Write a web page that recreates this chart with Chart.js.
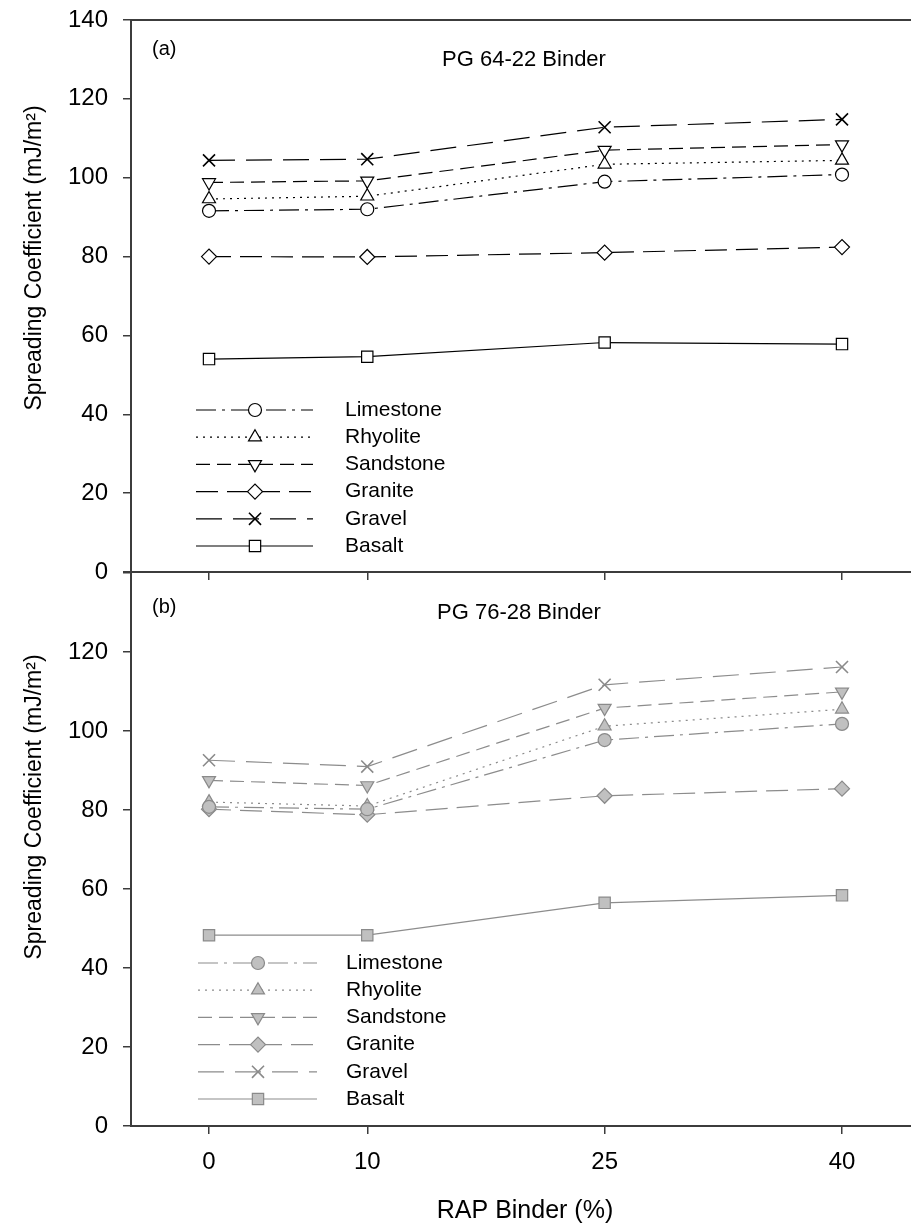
<!DOCTYPE html>
<html>
<head>
<meta charset="utf-8">
<title>Spreading Coefficient vs RAP Binder</title>
<script src="https://cdn.jsdelivr.net/npm/chart.js@4.4.1/dist/chart.umd.min.js"></script>
<style>
  body { margin: 0; background: #fff; }
  #wrap { position: relative; width: 911px; height: 1226px; overflow: hidden; }
  canvas { position: absolute; left: 0; }
</style>
</head>
<body>
<div id="wrap">
  <canvas id="chartA" width="911" height="612" style="top:-10px"></canvas>
  <canvas id="chartB" width="911" height="683" style="top:543px"></canvas>
</div>
<script>
const rapBinder = [0, 10, 25, 40];
const seriesNames = ['Limestone', 'Rhyolite', 'Sandstone', 'Granite', 'Gravel', 'Basalt'];

// (a) PG 64-22 binder
const limestoneA = [91.6, 92.0, 99.0, 100.8];
const rhyoliteA = [94.6, 95.3, 103.4, 104.4];
const sandstoneA = [98.8, 99.2, 107.0, 108.4];
const graniteA = [80.0, 79.9, 81.0, 82.4];
const gravelA = [104.4, 104.7, 112.8, 114.8];
const basaltA = [54.0, 54.6, 58.2, 57.8];

// (b) PG 76-28 binder
const limestoneB = [80.8, 80.2, 97.7, 101.8];
const rhyoliteB = [82.0, 81.0, 101.2, 105.5];
const sandstoneB = [87.5, 86.2, 105.8, 109.9];
const graniteB = [80.2, 78.8, 83.6, 85.4];
const gravelB = [92.6, 91.0, 111.7, 116.2];
const basaltB = [48.3, 48.3, 56.5, 58.4];

const yMin = 0;
const yMax = 140;
const yStep = 20;

const FONT = "'Liberation Sans', Arial, sans-serif";
const AXIS = '#3c3c3c';

// line / marker look per aggregate
const styles = {
  Limestone: { dash: [20, 6, 3, 6], point: 'circle', radius: 6.5, rotation: 0 },
  Rhyolite: { dash: [2, 5], point: 'triangle', radius: 7.5, rotation: 0 },
  Sandstone: { dash: [14, 7], point: 'triangle', radius: 7.5, rotation: 180 },
  Granite: { dash: [22, 9], point: 'rectRot', radius: 7.5, rotation: 0 },
  Gravel: { dash: [26, 11], point: 'crossRot', radius: 8.5, rotation: 0 },
  Basalt: { dash: [], point: 'rect', radius: 8, rotation: 0 }
};

function makeDatasets(seriesValues, lineColor, fill, markerEdge) {
  return seriesNames.map(function(name, i) {
    const s = styles[name];
    return {
      label: name,
      data: rapBinder.map(function(x, j) { return { x: x, y: seriesValues[i][j] }; }),
      borderColor: lineColor,
      borderWidth: 1.2,
      borderDash: s.dash,
      pointStyle: s.point,
      pointRadius: s.radius,
      pointRotation: s.rotation,
      pointBackgroundColor: fill,
      pointBorderColor: markerEdge,
      pointBorderWidth: s.point === 'crossRot' ? 1.6 : 1.2,
      fill: false,
      tension: 0
    };
  });
}

// hand-drawn legend: dashed sample with the marker in the middle
const sampleLegend = {
  id: 'sampleLegend',
  afterDatasetsDraw(chart, args, opts) {
    const ctx = chart.ctx;
    chart.data.datasets.forEach(function(ds, i) {
      const y = opts.top + i * opts.rowGap;
      ctx.save();
      ctx.strokeStyle = ds.borderColor;
      ctx.lineWidth = ds.borderWidth;
      ctx.setLineDash(ds.borderDash);
      ctx.beginPath();
      ctx.moveTo(opts.lineStart, y);
      ctx.lineTo(opts.lineEnd, y);
      ctx.stroke();
      ctx.setLineDash([]);
      ctx.fillStyle = ds.pointBackgroundColor;
      ctx.strokeStyle = ds.pointBorderColor;
      ctx.lineWidth = ds.pointBorderWidth;
      Chart.helpers.drawPoint(ctx, {
        pointStyle: ds.pointStyle,
        rotation: ds.pointRotation,
        radius: ds.pointRadius,
        borderWidth: ds.pointBorderWidth
      }, opts.markerX, y);
      ctx.fillStyle = '#000';
      ctx.font = '21px ' + FONT;
      ctx.textAlign = 'left';
      ctx.textBaseline = 'middle';
      ctx.fillText(ds.label, opts.textX, y);
      ctx.restore();
    });
  }
};

// panel tag, binder name and the axis titles
const panelText = {
  id: 'panelText',
  afterDraw(chart, args, opts) {
    const ctx = chart.ctx;
    ctx.save();
    ctx.fillStyle = '#000';
    ctx.textBaseline = 'alphabetic';
    ctx.font = '20px ' + FONT;
    ctx.textAlign = 'left';
    ctx.fillText(opts.tag, opts.tagX, opts.tagY);
    ctx.font = '22px ' + FONT;
    ctx.textAlign = 'center';
    ctx.fillText(opts.binder, opts.binderX, opts.binderY);
    if (opts.xTitle) {
      ctx.font = '25px ' + FONT;
      ctx.textBaseline = 'middle';
      ctx.fillText(opts.xTitle, opts.xTitleX, opts.xTitleY);
    }
    ctx.font = '23px ' + FONT;
    ctx.translate(opts.yTitleX, opts.yTitleY);
    ctx.rotate(-Math.PI / 2);
    ctx.textBaseline = 'middle';
    ctx.fillText('Spreading Coefficient (mJ/m\u00B2)', 0, 0);
    ctx.restore();
  }
};

function makeConfig(datasets, isBottom, legendOpts, textOpts) {
  return {
    type: 'line',
    data: { datasets: datasets },
    plugins: [sampleLegend, panelText],
    options: {
      responsive: false,
      animation: false,
      layout: { padding: 0, autoPadding: false },
      plugins: {
        legend: { display: false },
        tooltip: { enabled: false },
        sampleLegend: legendOpts,
        panelText: textOpts
      },
      scales: {
        x: {
          type: 'linear',
          min: -4.93,
          max: 44.36,
          afterBuildTicks: function(scale) {
            scale.ticks = rapBinder.map(function(v) { return { value: v }; });
          },
          afterFit: function(scale) { scale.height = isBottom ? 100 : 30; },
          grid: { drawOnChartArea: false, tickLength: 8, color: AXIS, lineWidth: 1.5 },
          border: { color: AXIS, width: 2 },
          ticks: {
            display: isBottom,
            padding: 14,
            color: '#000',
            font: { family: FONT, size: 24 }
          }
        },
        xTop: {
          type: 'linear',
          position: 'top',
          min: -4.93,
          max: 44.36,
          afterFit: function(scale) { scale.height = 30; },
          grid: { display: false, drawTicks: false },
          border: { display: !isBottom, color: AXIS, width: 2 },
          ticks: { display: false }
        },
        y: {
          min: yMin,
          max: yMax,
          afterFit: function(scale) { scale.width = 131; },
          grid: { drawOnChartArea: false, tickLength: 8, color: AXIS, lineWidth: 1.5 },
          border: { color: AXIS, width: 2 },
          ticks: {
            stepSize: yStep,
            padding: 15,
            color: '#000',
            font: { family: FONT, size: 24 },
            callback: function(v) { return (isBottom && v === yMax) ? '' : v; }
          }
        }
      }
    }
  };
}

const datasetsA = makeDatasets(
  [limestoneA, rhyoliteA, sandstoneA, graniteA, gravelA, basaltA],
  '#000', '#fff', '#000');
const datasetsB = makeDatasets(
  [limestoneB, rhyoliteB, sandstoneB, graniteB, gravelB, basaltB],
  '#8c8c8c', '#c0c0c0', '#8a8a8a');

new Chart(document.getElementById('chartA').getContext('2d'), makeConfig(datasetsA, false,
  { top: 420, rowGap: 27.2, lineStart: 196, lineEnd: 313, markerX: 255, textX: 345 },
  { tag: '(a)', tagX: 152, tagY: 65, binder: 'PG 64-22 Binder', binderX: 524, binderY: 76,
    yTitleX: 35, yTitleY: 268 }));

new Chart(document.getElementById('chartB').getContext('2d'), makeConfig(datasetsB, true,
  { top: 420, rowGap: 27.2, lineStart: 198, lineEnd: 317, markerX: 258, textX: 346 },
  { tag: '(b)', tagX: 152, tagY: 70, binder: 'PG 76-28 Binder', binderX: 519, binderY: 76,
    yTitleX: 35, yTitleY: 264, xTitle: 'RAP Binder (%)', xTitleX: 525, xTitleY: 668 }));
</script>
</body>
</html>
